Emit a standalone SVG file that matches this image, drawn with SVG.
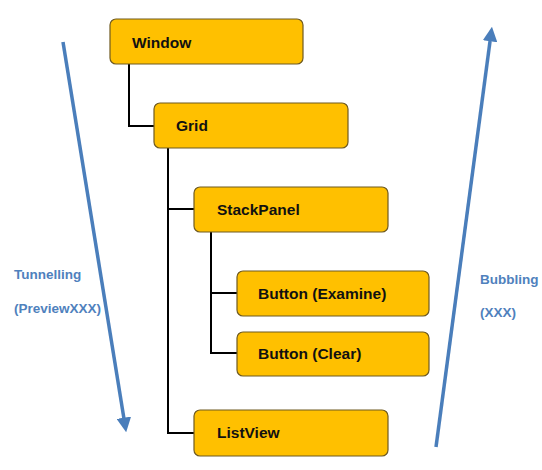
<svg xmlns="http://www.w3.org/2000/svg" width="542" height="470" viewBox="0 0 542 470">
<style>
.node rect{fill:#FFC000;stroke:#6f5a20;stroke-width:1.2}
.node text{font-family:"Liberation Sans",Arial,sans-serif;font-weight:bold;font-size:15.5px;fill:#111}
.conn{fill:none;stroke:#000;stroke-width:2}
.flow{stroke:#4a7ebb;stroke-width:3.5;fill:none}
.lbl{font-family:"Liberation Sans",Arial,sans-serif;font-weight:bold;font-size:13.5px;fill:#4f81bd}
</style>
<defs>
<marker id="ah" viewBox="0 0 10 10" refX="5" refY="5" markerWidth="4.2" markerHeight="4.2" orient="auto" markerUnits="strokeWidth">
<path d="M0,0 L10,5 L0,10 z" fill="#4a7ebb"/>
</marker>
</defs>
<g id="connectors">
<path class="conn" d="M129,64 V126 H154"/>
<path class="conn" d="M168,148 V433 H194 M168,209 H194"/>
<path class="conn" d="M211,232 V353 H237 M211,293 H237"/>
</g>
<g id="window" class="node"><rect x="110" y="19" width="193" height="45" rx="6"/><text x="132" y="48">Window</text></g>
<g id="grid" class="node"><rect x="154" y="103" width="194" height="45" rx="6"/><text x="176" y="131">Grid</text></g>
<g id="stackpanel" class="node"><rect x="194" y="187" width="194" height="45" rx="6"/><text x="217" y="215">StackPanel</text></g>
<g id="button-examine" class="node"><rect x="237" y="271" width="192" height="45" rx="6"/><text x="258" y="299">Button (Examine)</text></g>
<g id="button-clear" class="node"><rect x="237" y="332" width="192" height="44" rx="6"/><text x="258" y="359">Button (Clear)</text></g>
<g id="listview" class="node"><rect x="194" y="410" width="194" height="46" rx="6"/><text x="217" y="438">ListView</text></g>
<g id="tunnelling">
<line class="flow" x1="63" y1="42" x2="125" y2="425" marker-end="url(#ah)"/>
<text class="lbl" x="14" y="279">Tunnelling</text>
<text class="lbl" x="14" y="313">(PreviewXXX)</text>
</g>
<g id="bubbling">
<line class="flow" x1="436" y1="447" x2="491" y2="34" marker-end="url(#ah)"/>
<text class="lbl" x="480" y="284">Bubbling</text>
<text class="lbl" x="480" y="317">(XXX)</text>
</g>
</svg>
